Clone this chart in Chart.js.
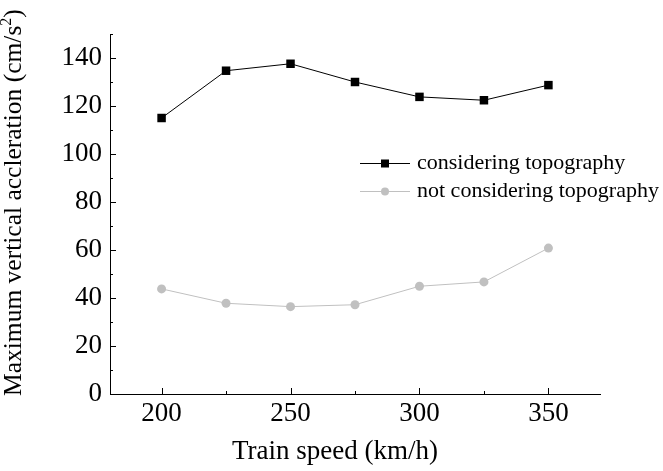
<!DOCTYPE html>
<html>
<head>
<meta charset="utf-8">
<script src="https://cdn.jsdelivr.net/npm/chart.js@4"></script>
<style>
  html, body { margin: 0; padding: 0; background: #fff; }
  #wrap { width: 663px; height: 471px; }
</style>
</head>
<body>
<div id="wrap"><canvas id="accChart" width="663" height="471"></canvas></div>
<script>
const speeds = [200, 225, 250, 275, 300, 325, 350];
const withTopo = [115, 134.7, 137.6, 130, 123.8, 122.4, 128.7];
const withoutTopo = [43.8, 37.8, 36.4, 37.2, 44.9, 46.7, 60.8];
const xTicks = [200, 250, 300, 350];
const yTicks = [0, 20, 40, 60, 80, 100, 120, 140];
const seriesNames = ["considering topography", "not considering topography"];
const xTitle = "Train speed (km/h)";
const yTitle = "Maximum vertical accleration (cm/s";

const serif = "'Liberation Serif', 'Times New Roman', serif";
const grey = "#c0c0c0";

// inward ticks, legend and axis titles
const tickPlugin = {
  id: "inwardTicks",
  afterDraw(chart) {
    const ctx = chart.ctx;
    const x = chart.scales.x;
    const y = chart.scales.y;
    const area = chart.chartArea;
    ctx.save();
    ctx.strokeStyle = "#000";
    ctx.lineWidth = 1;
    ctx.beginPath();
    for (let v = 200; v <= 350; v += 25) {
      const px = Math.round(x.getPixelForValue(v)) + 0.5;
      const len = v % 50 === 0 ? 6 : 3;
      ctx.moveTo(px, area.bottom);
      ctx.lineTo(px, area.bottom - len);
    }
    for (let v = 0; v <= 150; v += 10) {
      const py = Math.round(y.getPixelForValue(v)) + 0.5;
      const len = v % 20 === 0 ? 6 : 3;
      ctx.moveTo(area.left, py);
      ctx.lineTo(area.left + len, py);
    }
    ctx.stroke();

    // legend
    const rows = [163, 191];
    chart.data.datasets.forEach((ds, i) => {
      const ly = rows[i];
      ctx.strokeStyle = ds.borderColor;
      ctx.lineWidth = 1;
      ctx.beginPath();
      ctx.moveTo(360, ly + 0.5);
      ctx.lineTo(410, ly + 0.5);
      ctx.stroke();
      ctx.fillStyle = ds.pointBackgroundColor;
      if (ds.pointStyle === "rect") {
        ctx.fillRect(381, ly - 3.5, 8, 8);
      } else {
        ctx.beginPath();
        ctx.arc(385, ly + 0.5, 4, 0, Math.PI * 2);
        ctx.fill();
      }
      ctx.fillStyle = "#000";
      ctx.font = "22px " + serif;
      ctx.textBaseline = "middle";
      ctx.fillText(ds.label, 417, ly);
    });

    // x title
    ctx.fillStyle = "#000";
    ctx.textBaseline = "alphabetic";
    ctx.textAlign = "left";
    ctx.font = "27px " + serif;
    ctx.fillText(xTitle, 232, 459);

    // y title, rotated, with superscript 2
    ctx.translate(21, 396);
    ctx.rotate(-Math.PI / 2);
    ctx.font = "25.5px " + serif;
    ctx.fillText(yTitle, 0, 0);
    let w = ctx.measureText(yTitle).width;
    ctx.font = "16px " + serif;
    ctx.fillText("2", w, -10);
    w += ctx.measureText("2").width;
    ctx.font = "25.5px " + serif;
    ctx.fillText(")", w, 0);
    ctx.restore();
  }
};

new Chart(document.getElementById("accChart"), {
  type: "line",
  data: {
    datasets: [
      {
        label: seriesNames[0],
        data: speeds.map((s, i) => ({ x: s, y: withTopo[i] })),
        borderColor: "#000",
        borderWidth: 1,
        pointStyle: "rect",
        pointRadius: 6,
        pointBackgroundColor: "#000",
        pointBorderColor: "#000",
        pointBorderWidth: 0,
        tension: 0
      },
      {
        label: seriesNames[1],
        data: speeds.map((s, i) => ({ x: s, y: withoutTopo[i] })),
        borderColor: grey,
        borderWidth: 1,
        pointStyle: "circle",
        pointRadius: 4.5,
        pointBackgroundColor: grey,
        pointBorderColor: grey,
        pointBorderWidth: 0,
        tension: 0
      }
    ]
  },
  options: {
    responsive: false,
    animation: false,
    layout: { padding: { top: 34, right: 63, left: 0, bottom: 0 } },
    plugins: {
      legend: { display: false },
      tooltip: { enabled: false }
    },
    scales: {
      x: {
        type: "linear",
        min: 180,
        max: 370,
        grid: { display: false, drawTicks: false },
        border: { display: true, color: "#000", width: 1 },
        afterBuildTicks: (s) => { s.ticks = xTicks.map((v) => ({ value: v })); },
        afterFit: (s) => { s.height = 77; },
        ticks: {
          color: "#000",
          padding: 4,
          maxRotation: 0,
          font: { family: serif, size: 27 }
        }
      },
      y: {
        min: 0,
        max: 150,
        grid: { display: false, drawTicks: false },
        border: { display: true, color: "#000", width: 1 },
        afterBuildTicks: (s) => { s.ticks = yTicks.map((v) => ({ value: v })); },
        afterFit: (s) => { s.width = 110; },
        ticks: {
          color: "#000",
          padding: 8,
          font: { family: serif, size: 27 }
        }
      }
    }
  },
  plugins: [tickPlugin]
});
</script>
</body>
</html>
